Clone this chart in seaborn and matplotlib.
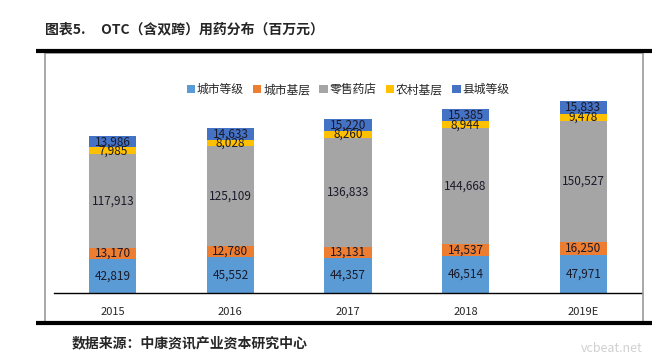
import numpy as np
import matplotlib
matplotlib.use("Agg")
import matplotlib.pyplot as plt
from matplotlib.patches import Patch, Rectangle
from matplotlib.lines import Line2D
import seaborn as sns

# 数据（百万元）
years = ["2015", "2016", "2017", "2018", "2019E"]
series_names = ["城市等级", "城市基层", "零售药店", "农村基层", "县城等级"]
city_level = [42819, 45552, 44357, 46514, 47971]
city_base = [13170, 12780, 13131, 14537, 16250]
retail = [117913, 125109, 136833, 144668, 150527]
rural_base = [7985, 8028, 8260, 8944, 9478]
county_level = [13986, 14633, 15220, 15385, 15833]
colors = ["#5B9BD5", "#ED7D31", "#A5A5A5", "#FFC000", "#4472C4"]

sns.set_style("white")
plt.rcParams["font.family"] = ["Noto Sans CJK SC", "DejaVu Sans"]

fig = plt.figure(figsize=(6.6, 3.6), dpi=100)
ax = fig.add_axes([54 / 660, 67 / 360, 588 / 660, 232 / 360])

bottom = np.zeros(len(years))
for name, vals, c in zip(series_names,
                         [city_level, city_base, retail, rural_base, county_level],
                         colors):
    vals = np.array(vals, dtype=float)
    sns.barplot(x=years, y=vals, bottom=bottom, color=c, width=0.4,
                ax=ax, saturation=1, linewidth=0)
    for i, v in enumerate(vals):
        ax.text(i, bottom[i] + v / 2, f"{int(v):,}", ha="center", va="center",
                fontsize=8.5, color="#1a1a2a")
    bottom += vals

ax.set_ylim(0, 290000)
ax.set_xlim(-0.5, 4.5)
ax.set_yticks([])
ax.set_ylabel("")
for s in ["top", "right", "left"]:
    ax.spines[s].set_visible(False)
ax.spines["bottom"].set_color("black")
ax.spines["bottom"].set_linewidth(1)
ax.set_xticks(range(len(years)))
ax.set_xticklabels(years, fontsize=8)
ax.set_xticks(np.arange(-0.5, 4.0, 1.0), minor=True)
ax.tick_params(axis="x", which="major", length=0, pad=10)
ax.tick_params(axis="x", which="minor", length=5, width=1, color="black", direction="out")

handles = [Patch(facecolor=c, edgecolor="none", label=n) for n, c in zip(series_names, colors)]
ax.legend(handles=handles, loc="upper center", bbox_to_anchor=(0.5, 0.95), ncol=5,
          frameon=False, fontsize=8.5, handlelength=0.7, handleheight=0.7,
          handletextpad=0.15, columnspacing=0.8)

# 外框与粗横线
fig.add_artist(Rectangle((45 / 660, 1 - 322 / 360), 598 / 660, 269 / 360,
                         transform=fig.transFigure, fill=False,
                         edgecolor="#999999", linewidth=1.2))
fig.add_artist(Line2D([36 / 660, 652 / 660], [1 - 51 / 360] * 2,
                      transform=fig.transFigure, color="black", linewidth=3,
                      solid_capstyle="butt"))
fig.add_artist(Line2D([36 / 660, 652 / 660], [1 - 323 / 360] * 2,
                      transform=fig.transFigure, color="black", linewidth=3,
                      solid_capstyle="butt"))

fig.text(45 / 660, 1 - 30 / 360, "图表5.     OTC（含双跨）用药分布（百万元）",
         fontsize=10, fontweight="bold", va="center", ha="left")
fig.text(72 / 660, 1 - 343 / 360, "数据来源：中康资讯产业资本研究中心",
         fontsize=10, fontweight="bold", va="center", ha="left")
fig.text(643 / 660, 1 - 348 / 360, "vcbeat.net", fontsize=9, color="#d0d0d0",
         va="center", ha="right")

fig.savefig("out.png", dpi=100)
